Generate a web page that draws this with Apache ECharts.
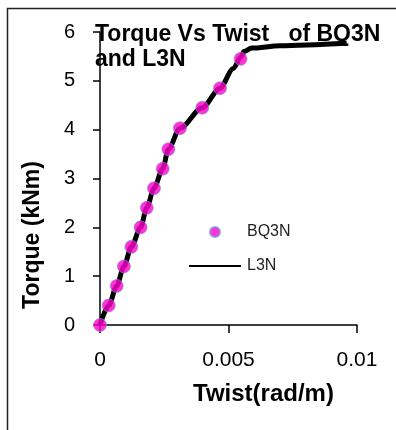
<!DOCTYPE html>
<html>
<head>
<meta charset="utf-8">
<script src="https://cdn.jsdelivr.net/npm/echarts@6/dist/echarts.min.js"></script>
<style>
  html, body { margin: 0; padding: 0; background: #fff; }
  #main { width: 396px; height: 430px; }
</style>
</head>
<body>
<div id="main"></div>
<script>
// BQ3N test points (twist rad/m, torque kNm)
var bqTwist = [0, 0.00034, 0.00065, 0.00093, 0.00122, 0.00158, 0.00182, 0.0021, 0.00244, 0.00266, 0.00311, 0.00398, 0.00467, 0.00547];
var bqTorque = [0, 0.4, 0.8, 1.2, 1.6, 2.0, 2.4, 2.8, 3.2, 3.6, 4.03, 4.45, 4.85, 5.45];

// L3N curve
var lTwist = [0, 0.00034, 0.00065, 0.00093, 0.00122, 0.00158, 0.00182, 0.0021, 0.00244, 0.00266, 0.00311, 0.00398, 0.00467, 0.00518, 0.0055, 0.0056, 0.0059, 0.007, 0.0096];
var lTorque = [0, 0.4, 0.8, 1.2, 1.6, 2.0, 2.4, 2.8, 3.2, 3.6, 4.03, 4.45, 4.85, 5.25, 5.5, 5.6, 5.67, 5.72, 5.77];

var xTicks = [0, 0.005, 0.01];
var yTicks = [0, 1, 2, 3, 4, 5, 6];

function pairs(a, b) {
    return a.map(function (v, i) { return [v, b[i]]; });
}

var myChart = echarts.init(document.getElementById('main'));

var option = {
    backgroundColor: '#fff',
    animation: false,
    textStyle: { fontFamily: 'Liberation Sans, Arial, sans-serif' },
    graphic: [{
        type: 'rect',
        shape: { x: 7.5, y: 8.5, width: 600, height: 600 },
        style: { fill: 'none', stroke: '#222', lineWidth: 1.5 },
        silent: true
    }],
    title: {
        text: 'Torque Vs Twist   of BQ3N\nand L3N',
        left: 95,
        top: 22,
        padding: 0,
        textStyle: { fontSize: 23, fontWeight: 'bold', color: '#000', lineHeight: 25 }
    },
    legend: {
        orient: 'vertical',
        left: 189,
        top: 223,
        itemWidth: 52,
        itemHeight: 10,
        itemGap: 16,
        padding: 0,
        symbolKeepAspect: true,
        textStyle: { fontSize: 16, color: '#222', lineHeight: 18, padding: [0, 0, 0, 1] },
        data: [
            { name: 'BQ3N', icon: 'circle' },
            { name: 'L3N', icon: 'path://M0,0L52,0L52,2L0,2Z', lineStyle: { width: 2 }, itemStyle: { color: '#000' } }
        ]
    },
    grid: { left: 100, right: 39, top: 32, bottom: 105 },
    xAxis: {
        type: 'value',
        min: xTicks[0],
        max: xTicks[xTicks.length - 1],
        interval: 0.005,
        name: 'Twist(rad/m)',
        nameLocation: 'middle',
        nameGap: 57,
        nameTextStyle: { fontSize: 24, fontWeight: 'bold', color: '#000', padding: [0, 0, 0, 70] },
        axisLine: { lineStyle: { color: '#000', width: 1.5 } },
        axisTick: { length: 8, lineStyle: { color: '#000', width: 1.5 } },
        axisLabel: { fontSize: 21, color: '#000', margin: 25 },
        splitLine: { show: false }
    },
    yAxis: {
        type: 'value',
        min: yTicks[0],
        max: yTicks[yTicks.length - 1],
        interval: 1,
        name: 'Torque (kNm)',
        nameLocation: 'middle',
        nameGap: 56,
        nameTextStyle: { fontSize: 23, fontWeight: 'bold', color: '#000', padding: [0, 113, 0, 0] },
        axisLine: { show: true, lineStyle: { color: '#000', width: 1.5 } },
        axisTick: { show: true, length: 7, lineStyle: { color: '#000', width: 1.5 } },
        axisLabel: { fontSize: 20, color: '#000', margin: 25 },
        splitLine: { show: false }
    },
    series: [
        {
            name: 'L3N',
            type: 'line',
            data: pairs(lTwist, lTorque),
            smooth: 0.3,
            smoothMonotone: 'x',
            symbol: 'none',
            lineStyle: { color: '#000', width: 5 },
            itemStyle: { color: '#000' },
            z: 2
        },
        {
            name: 'BQ3N',
            type: 'scatter',
            data: pairs(bqTwist, bqTorque),
            symbol: 'circle',
            symbolSize: 13,
            itemStyle: { color: '#ff00cc', borderColor: '#7f8fdc', borderWidth: 0.8 },
            z: 3
        }
    ]
};

myChart.setOption(option);
</script>
</body>
</html>
